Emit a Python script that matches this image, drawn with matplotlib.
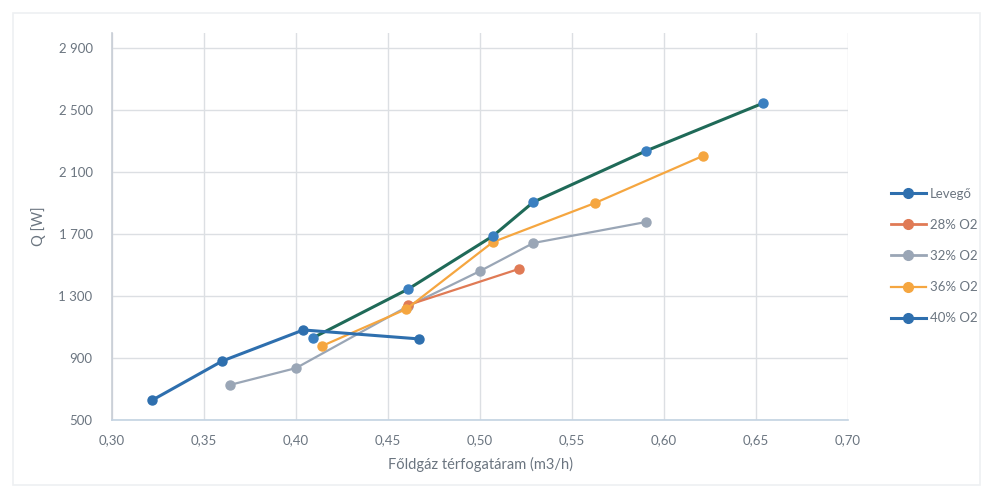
import matplotlib
matplotlib.use("Agg")
import matplotlib.pyplot as plt
from matplotlib.lines import Line2D
from matplotlib.patches import Rectangle

# Measured heat output vs. natural gas flow rate for each oxidiser composition
levego_x = [0.322, 0.360, 0.404, 0.467]
levego_y = [629, 881, 1081, 1023]

o28_x = [0.461, 0.521]
o28_y = [1242, 1474]

o32_x = [0.364, 0.400, 0.461, 0.500, 0.529, 0.590]
o32_y = [726, 835, 1235, 1461, 1642, 1777]

o36_x = [0.414, 0.460, 0.507, 0.5625, 0.621]
o36_y = [977, 1216, 1648, 1900, 2203]

o40_x = [0.409, 0.461, 0.507, 0.529, 0.590, 0.654]
o40_y = [1029, 1345, 1687, 1906, 2235, 2545]

labels = ["Levegő", "28% O2", "32% O2", "36% O2", "40% O2"]
x_ticks = [0.30, 0.35, 0.40, 0.45, 0.50, 0.55, 0.60, 0.65, 0.70]
y_ticks = [500, 900, 1300, 1700, 2100, 2500, 2900]

blue = "#2e6fae"
red = "#e07a55"
gray = "#9aa6b6"
orange = "#f5a640"
green = "#1f6a58"
marker_blue = "#3a7fc0"
text_col = "#6b7580"

plt.rcParams["font.family"] = ["Lato", "DejaVu Sans"]

fig = plt.figure(figsize=(9.85, 4.91), dpi=100)
fig.patch.set_facecolor("white")
fig.patches.append(Rectangle((13 / 985, 6 / 491), 967 / 985, 472 / 491,
                             transform=fig.transFigure, fill=False,
                             edgecolor="#eef0f2", linewidth=1.2))

ax = fig.add_axes([112 / 985, 1 - 420 / 491, (848 - 112) / 985, (420 - 33) / 491])

ax.plot(levego_x, levego_y, color=blue, lw=2.2, marker="o", ms=6.5,
        mfc=blue, mec=blue, zorder=5)
ax.plot(o32_x, o32_y, color=gray, lw=1.6, marker="o", ms=6.5,
        mfc=gray, mec=gray, zorder=3)
ax.plot(o28_x, o28_y, color=red, lw=1.6, marker="o", ms=6.5,
        mfc=red, mec=red, zorder=3)
ax.plot(o36_x, o36_y, color=orange, lw=1.6, marker="o", ms=6.5,
        mfc=orange, mec=orange, zorder=4)
ax.plot(o40_x, o40_y, color=green, lw=2.2, marker="o", ms=6.5,
        mfc=marker_blue, mec=marker_blue, zorder=4)

ax.set_xlim(0.30, 0.70)
ax.set_ylim(500, 2997)
ax.set_xticks(x_ticks)
ax.set_yticks(y_ticks)
ax.set_xticklabels([f"{v:.2f}".replace(".", ",") for v in x_ticks])
ax.set_yticklabels([f"{v:,}".replace(",", " ") for v in y_ticks])

ax.grid(True, color="#dcdfe3", lw=1.0)
ax.set_axisbelow(True)
for s in ("top", "right"):
    ax.spines[s].set_visible(False)
ax.spines["left"].set_color("#c8ced6")
ax.spines["bottom"].set_color("#c3d3e2")
ax.spines["left"].set_linewidth(1.2)
ax.spines["bottom"].set_linewidth(1.2)
ax.tick_params(length=0, labelsize=9.5, colors=text_col, pad=10)
ax.tick_params(axis="y", pad=14)

ax.set_xlabel("Főldgáz térfogatáram (m3/h)", fontsize=10.5, color=text_col, labelpad=8)
ax.set_ylabel("Q [W]", fontsize=10.5, color=text_col, labelpad=9)

handles = [
    Line2D([], [], color=blue, lw=2.2, marker="o", ms=7, mfc=blue, mec=blue),
    Line2D([], [], color=red, lw=2.0, marker="o", ms=7, mfc=red, mec=red),
    Line2D([], [], color=gray, lw=2.0, marker="o", ms=7, mfc=gray, mec=gray),
    Line2D([], [], color=orange, lw=1.6, marker="o", ms=7, mfc=orange, mec=orange),
    Line2D([], [], color=blue, lw=2.2, marker="o", ms=7, mfc=blue, mec=blue),
]
leg = fig.legend(handles, labels, loc="center left",
                 bbox_to_anchor=(886 / 985, 1 - 256 / 491), frameon=False,
                 fontsize=9.5, labelspacing=1.45, handlelength=2.6,
                 handletextpad=0.3, borderaxespad=0)
for t in leg.get_texts():
    t.set_color(text_col)

fig.savefig("out.png", dpi=100, facecolor="white")
